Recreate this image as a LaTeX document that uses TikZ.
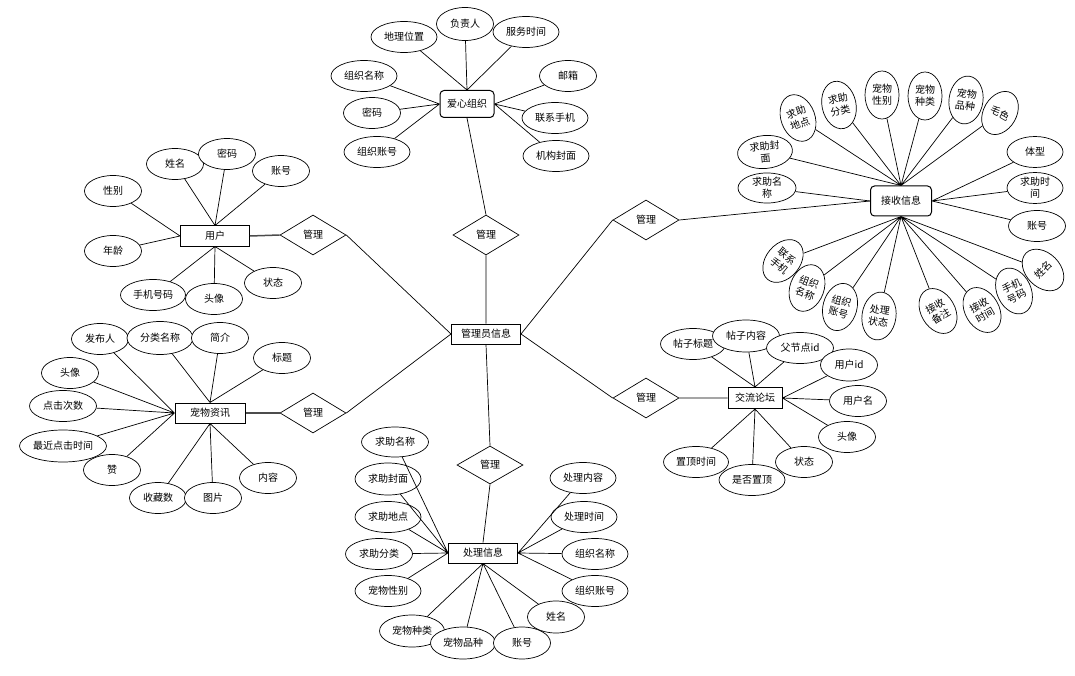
\documentclass[tikz,border=0pt]{standalone}
\usepackage{fontspec}
\setmainfont{Noto Sans CJK SC}
\usetikzlibrary{shapes.geometric}

\begin{document}
\begin{tikzpicture}
      [x=1pt, y=-1pt,
        font=\fontsize{10}{12}\selectfont,
        line/.style={draw, line width=0.7pt},
        link/.style={draw, line width=1.5pt, black!70},
        entity/.style={
          rectangle,
          draw=black, line width=1pt,
          fill=white,
          inner sep=0pt,
          minimum width=69pt,
          minimum height=20pt,
        },
        group/.style={entity, rounded corners=4pt},
        relation/.style={
          diamond,
          draw=black, line width=0.7pt,
          inner sep=0pt,
          minimum width=66pt,
          minimum height=40pt,
        },
        attr/.style={
          ellipse,
          draw=black, line width=0.7pt,
          fill=white,
          inner sep=0pt,
          align=center,
          minimum width=57pt,
          minimum height=31pt,
        },
        wide/.style={attr, minimum width=66pt},
        tall/.style={attr, minimum width=34pt, minimum height=48pt},
]
      \useasboundingbox (0,0) rectangle (1075,676);

      % centre and relations
      \node[entity] (admin) at (486,334) {管理员信息};
      \node[relation] (mgtop) at (486,235) {管理};
      \node[relation] (mguser) at (313,235) {管理};
      \node[relation] (mgnews) at (313,413) {管理};
      \node[relation] (mgrecv) at (646,220) {管理};
      \node[relation] (mgforum) at (646,398) {管理};
      \node[relation, minimum height=38pt] (mghandle) at (490,465) {管理};

      % 爱心组织
      \node[group, minimum width=54pt, minimum height=27pt] (org) at (467,104) {爱心组织};
      \node[wide] (orgaddr) at (404,37) {地理位置};
      \node[attr, minimum height=33pt] (orghead) at (465,24) {负责人};
      \node[wide] (orgtime) at (526,32) {服务时间};
      \node[wide] (orgname) at (364,76) {组织名称};
      \node[attr] (orgpwd) at (372,113) {密码};
      \node[wide] (orgacct) at (377,152) {组织账号};
      \node[attr] (orgmail) at (568,76) {邮箱};
      \node[wide] (orgphone) at (555,118) {联系手机};
      \node[wide] (orgcover) at (556,156) {机构封面};
      \draw[line] (orgaddr) -- (org.north) (orghead) -- (org.north) (orgtime) -- (org.north);
      \draw[line] (orgname) -- (org.west) (orgpwd) -- (org.west) (orgacct) -- (org.west);
      \draw[line] (orgmail) -- (org.east) (orgphone) -- (org.east) (orgcover) -- (org.east);

      % 用户
      \node[entity] (user) at (215,236) {用户};
      \node[attr] (usersex) at (113,191) {性别};
      \node[attr] (userage) at (113,251) {年龄};
      \node[attr] (username) at (175,164) {姓名};
      \node[attr] (userpwd) at (227,154) {密码};
      \node[attr] (useracct) at (281,171) {账号};
      \node[attr, minimum width=65pt] (userphone) at (153,295) {手机号码};
      \node[attr] (userhead) at (214,299) {头像};
      \node[attr] (userstate) at (273,283) {状态};
      \draw[line] (username) -- (user.north) (userpwd) -- (user.north) (useracct) -- (user.north);
      \draw[line] (usersex) -- (user.west) (userage) -- (user.west);
      \draw[line] (userphone) -- (user.south) (userhead) -- (user.south) (userstate) -- (user.south);

      % 宠物资讯
      \node[entity, minimum width=70pt] (petnews) at (210,413) {宠物资讯};
      \node[attr] (newsauthor) at (100,339) {发布人};
      \node[wide, minimum height=33pt] (newscat) at (160,338) {分类名称};
      \node[attr] (newsintro) at (220,338) {简介};
      \node[attr] (newstitle) at (282,358) {标题};
      \node[attr] (newshead) at (70,373) {头像};
      \node[attr, minimum width=67pt] (newsclicks) at (63,406) {点击次数};
      \node[attr] (newslike) at (112,470) {赞};
      \node[attr, minimum width=87pt, minimum height=32pt] (newslast) at (63,446) {最近点击时间};
      \node[attr] (newsfav) at (158,498) {收藏数};
      \node[attr] (newspic) at (213,498) {图片};
      \node[attr] (newstext) at (268,478) {内容};
      \draw[line] (newscat) -- (petnews.north) (newsintro) -- (petnews.north) (newstitle) -- (petnews.north);
      \draw[line] (newsauthor) -- (petnews.west) (newshead) -- (petnews.west) (newsclicks) -- (petnews.west)
        (newslast) -- (petnews.west) (newslike) -- (petnews.west);
      \draw[line] (newsfav) -- (petnews.south) (newspic) -- (petnews.south) (newstext) -- (petnews.south);

      % 接收信息
      \node[group, minimum width=61pt, minimum height=30pt] (recv) at (901,201) {接收信息};
      \node[attr, minimum width=55pt, minimum height=33pt, rotate=5] (rcover) at (765,152) {求助封\\面};
      \node[attr, minimum width=58pt, minimum height=28pt] (rname) at (767,188) {求助名\\称};
      \node[tall, rotate=20] (rplace) at (798,118) {求助\\地点};
      \node[tall, rotate=12] (rcat) at (839,105) {求助\\分类};
      \node[tall] (rsex) at (882,95) {宠物\\性别};
      \node[tall] (rkind) at (925,96) {宠物\\种类};
      \node[tall, rotate=-8] (rbreed) at (966,100) {宠物\\品种};
      \node[tall, minimum width=33pt, minimum height=46pt, rotate=-30] (rcolor) at (1000,113) {毛色};
      \node[attr, minimum width=56pt] (rsize) at (1035,152) {体型};
      \node[attr, minimum width=56pt] (rtime) at (1035,188) {求助时\\间};
      \node[attr] (racct) at (1037,226) {账号};
      \node[tall, rotate=-40] (rphone) at (783,261) {联系\\手机};
      \node[tall, rotate=-20] (rorgname) at (807,288) {组织\\名称};
      \node[tall, rotate=-15] (rorgacct) at (840,307) {组织\\账号};
      \node[tall, rotate=-8] (rstate) at (879,316) {处理\\状态};
      \node[tall, rotate=30] (rnote) at (938,311) {接收\\备注};
      \node[tall, rotate=30] (rrtime) at (982,310) {接收\\时间};
      \node[tall, rotate=25] (rmobile) at (1014,291) {手机\\号码};
      \node[tall, rotate=45] (rperson) at (1043,270) {姓名};
      \draw[line] (rcover) -- (recv.north) (rplace) -- (recv.north) (rcat) -- (recv.north)
        (rsex) -- (recv.north) (rkind) -- (recv.north) (rbreed) -- (recv.north) (rcolor) -- (recv.north);
      \draw[line] (rname) -- (recv.west);
      \draw[line] (rsize) -- (recv.east) (rtime) -- (recv.east) (racct) -- (recv.east);
      \draw[line] (rphone) -- (recv.south) (rorgname) -- (recv.south) (rorgacct) -- (recv.south)
        (rstate) -- (recv.south) (rnote) -- (recv.south) (rrtime) -- (recv.south)
        (rmobile) -- (recv.south) (rperson) -- (recv.south);

      % 交流论坛
      \node[entity, minimum width=54pt, minimum height=21pt] (forum) at (755,398) {交流论坛};
      \node[attr, minimum width=65pt] (ftitle) at (693,344) {帖子标题};
      \node[attr, minimum width=67pt, minimum height=32pt] (ftext) at (746,336) {帖子内容};
      \node[attr, minimum width=67pt] (fparent) at (800,348) {父节点id};
      \node[attr, minimum height=32pt] (fuserid) at (849,365) {用户id};
      \node[attr] (fuser) at (858,401) {用户名};
      \node[attr] (fhead) at (847,437) {头像};
      \node[attr, minimum width=65pt] (ftoptime) at (696,462) {置顶时间};
      \node[attr] (fstate) at (804,462) {状态};
      \node[wide] (fistop) at (752,480) {是否置顶};
      \draw[line] (ftitle) -- (forum.north) (ftext) -- (forum.north) (fparent) -- (forum.north);
      \draw[line] (fuserid) -- (forum.east) (fuser) -- (forum.east) (fhead) -- (forum.east);
      \draw[line] (ftoptime) -- (forum.south) (fistop) -- (forum.south) (fstate) -- (forum.south);

      % 处理信息
      \node[entity] (handle) at (483,553) {处理信息};
      \node[attr, minimum width=67pt, minimum height=30pt] (hname) at (395,442) {求助名称};
      \node[wide, minimum height=32pt] (hcover) at (388,479) {求助封面};
      \node[wide] (hplace) at (388,517) {求助地点};
      \node[attr, minimum width=67pt] (hcat) at (379,554) {求助分类};
      \node[wide] (hsex) at (388,591) {宠物性别};
      \node[attr, minimum width=65pt, minimum height=32pt] (hkind) at (412,631) {宠物种类};
      \node[attr, minimum width=65pt, minimum height=32pt] (hbreed) at (463,643) {宠物品种};
      \node[attr, minimum height=32pt] (hacct) at (522,643) {账号};
      \node[attr, minimum height=32pt] (hperson) at (556,617) {姓名};
      \node[wide] (htext) at (583,478) {处理内容};
      \node[wide] (htime) at (584,517) {处理时间};
      \node[wide] (horgname) at (595,554) {组织名称};
      \node[wide] (horgacct) at (595,591) {组织账号};
      \draw[line] (hname) -- (handle.west) (hcover) -- (handle.west) (hplace) -- (handle.west)
        (hcat) -- (handle.west) (hsex) -- (handle.west);
      \draw[line] (hkind) -- (handle.south) (hbreed) -- (handle.south) (hacct) -- (handle.south)
        (hperson) -- (handle.south);
      \draw[line] (htext) -- (handle.east) (htime) -- (handle.east) (horgname) -- (handle.east)
        (horgacct) -- (handle.east);

      % relation links
      \draw[line] (mgtop.south) -- (admin.north) (mgtop.north) -- (org.south);
      \draw[link] (mguser.west) -- (user.east);
      \draw[line] (mguser.east) -- (admin.west);
      \draw[link] (mgnews.west) -- (petnews.east);
      \draw[line] (mgnews.east) -- (admin.west);
      \draw[line] (mgrecv.west) -- (admin.east) (mgrecv.east) -- (recv.west);
      \draw[line] (mgforum.west) -- (admin.east) (mgforum.east) -- (forum.west);
      \draw[line] (mghandle.north) -- (admin.south) (mghandle.south) -- (handle.north);
    \end{tikzpicture}
\end{document}
